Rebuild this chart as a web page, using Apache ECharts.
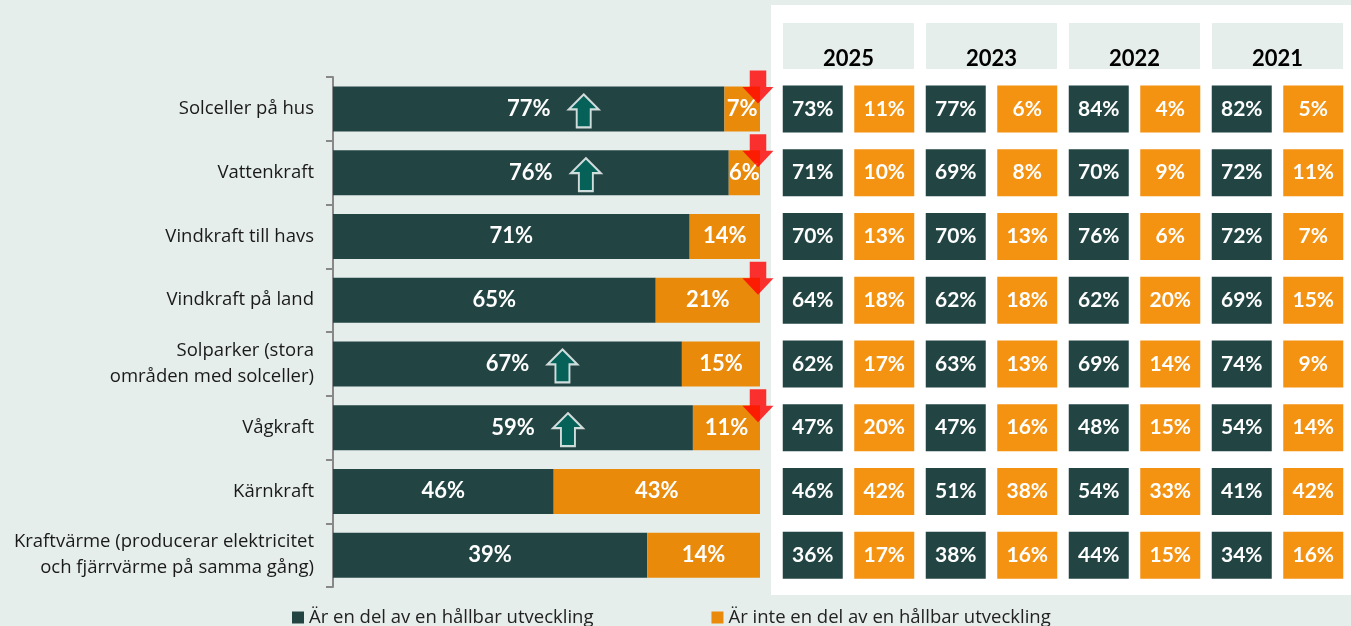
<!DOCTYPE html>
<html>
<head>
<meta charset="utf-8">
<script src="https://cdn.jsdelivr.net/npm/echarts@6/dist/echarts.min.js"></script>
<style>
  html, body { margin: 0; padding: 0; background: #e6eeec; }
  #chart { width: 1351px; height: 626px; }
</style>
</head>
<body>
<div id="chart"></div>
<script>
// kategorier
var categories = [
  'Solceller på hus',
  'Vattenkraft',
  'Vindkraft till havs',
  'Vindkraft på land',
  'Solparker (stora\nområden med solceller)',
  'Vågkraft',
  'Kärnkraft',
  'Kraftvärme (producerar elektricitet\noch fjärrvärme på samma gång)'
]

// staplar (2025)
var barYes = [77, 76, 71, 65, 67, 59, 46, 39]
var barNo = [7, 6, 14, 21, 15, 11, 43, 14]

// trendpilar: 1 = visa pil
var arrowUp = [1, 1, 0, 0, 1, 1, 0, 0]
var arrowDown = [1, 1, 0, 1, 0, 1, 0, 0]

// tabell till höger
var years = ['2025', '2023', '2022', '2021']
var tableYes = [
  [73, 71, 70, 64, 62, 47, 46, 36],
  [77, 69, 70, 62, 63, 47, 51, 38],
  [84, 70, 76, 62, 69, 48, 54, 44],
  [82, 72, 72, 69, 74, 54, 41, 34]
]
var tableNo = [
  [11, 10, 13, 18, 17, 20, 42, 17],
  [6, 8, 13, 18, 13, 16, 38, 16],
  [4, 9, 6, 20, 14, 15, 33, 15],
  [5, 11, 7, 15, 9, 14, 42, 16]
]

var DARK = '#224544'
var ORANGE_BAR = '#e98a0b'
var ORANGE_CELL = '#f49212'
var FONT = '"Open Sans", Lato, sans-serif'
var NUM_FONT = 'Lato, "Open Sans", sans-serif'

var chart = echarts.init(document.getElementById('chart'))

// 100 % staplad: andel av summan
var shareYes = barYes.map(function (v, i) { return v / (v + barNo[i]) })
var shareNo = barNo.map(function (v, i) { return v / (v + barNo[i]) })

var upData = []
var downData = []
categories.forEach(function (c, i) {
  if (arrowUp[i]) upData.push([shareYes[i] / 2, c])
  if (arrowDown[i]) downData.push([1, c])
})

var cellsYes = []
var cellsNo = []
years.forEach(function (y, k) {
  categories.forEach(function (c, i) {
    cellsYes.push([k * 2, i, tableYes[k][i]])
    cellsNo.push([k * 2 + 1, i, tableNo[k][i]])
  })
})

var barLabel = {
  show: true,
  position: 'inside',
  color: '#fff',
  fontSize: 22,
  fontWeight: 'bold',
  fontFamily: NUM_FONT
}

var cellLabel = {
  show: true,
  position: 'inside',
  color: '#fff',
  fontSize: 21,
  fontWeight: 'bold',
  fontFamily: NUM_FONT,
  formatter: function (p) { return p.value[2] + '%' }
}

var option = {
  backgroundColor: '#e6eeec',
  animation: false,
  textStyle: { fontFamily: FONT },
  graphic: [
    {
      type: 'rect',
      z: 0,
      shape: { x: 771, y: 5, width: 590, height: 590 },
      style: { fill: '#ffffff' }
    }
  ],
  legend: {
    data: ['Är en del av en hållbar utveckling', 'Är inte en del av en hållbar utveckling'],
    left: 287,
    top: 603,
    itemWidth: 12,
    itemHeight: 12,
    itemGap: 118,
    icon: 'rect',
    textStyle: { fontSize: 18.5, color: '#222', fontFamily: FONT }
  },
  grid: [
    { left: 333, top: 77, width: 427, height: 510 },
    { left: 777, top: 77, width: 572, height: 510 }
  ],
  xAxis: [
    { gridIndex: 0, type: 'value', min: 0, max: 1, show: false },
    {
      gridIndex: 1, type: 'category', show: false,
      data: [0, 1, 2, 3, 4, 5, 6, 7]
    },
    {
      gridIndex: 1, type: 'category', position: 'top',
      data: years,
      axisLine: { show: false },
      axisTick: { show: false },
      axisLabel: {
        margin: 21,
        formatter: '{a|{value}}',
        rich: {
          a: {
            width: 131,
            height: 20,
            lineHeight: 20,
            padding: [26, 0, 0, 0],
            align: 'center',
            backgroundColor: '#e6eeec',
            color: '#000',
            fontSize: 22,
            fontWeight: 'bold',
            fontFamily: NUM_FONT
          }
        }
      }
    }
  ],
  yAxis: [
    {
      gridIndex: 0,
      type: 'category',
      inverse: true,
      data: categories,
      axisLine: { lineStyle: { color: '#888888', width: 2 } },
      axisTick: { show: true, length: 7, lineStyle: { color: '#888888', width: 2 } },
      axisLabel: {
        margin: 19,
        color: '#1a1a1a',
        fontSize: 18.5,
        lineHeight: 26,
        fontFamily: FONT
      }
    },
    {
      gridIndex: 1,
      type: 'category',
      inverse: true,
      data: [0, 1, 2, 3, 4, 5, 6, 7],
      show: false
    }
  ],
  series: [
    {
      name: 'Är en del av en hållbar utveckling',
      type: 'bar',
      stack: 'a',
      barWidth: 45,
      data: shareYes,
      itemStyle: { color: DARK },
      label: Object.assign({}, barLabel, {
        formatter: function (p) { return barYes[p.dataIndex] + '%' }
      }),
      z: 3
    },
    {
      name: 'Är inte en del av en hållbar utveckling',
      type: 'bar',
      stack: 'a',
      barWidth: 45,
      data: shareNo,
      itemStyle: { color: ORANGE_BAR },
      label: Object.assign({}, barLabel, {
        formatter: function (p) { return barNo[p.dataIndex] + '%' }
      }),
      z: 3
    },
    {
      name: 'upp',
      type: 'scatter',
      data: upData,
      symbol: 'path://M15,0 L30,15 L22,15 L22,33 L8,33 L8,15 L0,15 Z',
      symbolSize: [30, 33],
      symbolOffset: [55, 2],
      itemStyle: { color: '#00685f', borderColor: '#ffffff', borderWidth: 2 },
      z: 5
    },
    {
      name: 'ner',
      type: 'scatter',
      data: downData,
      symbol: 'path://M7,0 L23,0 L23,16 L30,16 L15,32 L0,16 L7,16 Z',
      symbolSize: [31, 33],
      symbolOffset: [-2, -22],
      itemStyle: { color: '#ff0000' },
      z: 6
    },
    {
      name: 'tabell ja',
      type: 'scatter',
      xAxisIndex: 1,
      yAxisIndex: 1,
      data: cellsYes,
      symbol: 'rect',
      symbolSize: [60, 47],
      itemStyle: { color: DARK, opacity: 1 },
      label: cellLabel,
      z: 3
    },
    {
      name: 'tabell nej',
      type: 'scatter',
      xAxisIndex: 1,
      yAxisIndex: 1,
      data: cellsNo,
      symbol: 'rect',
      symbolSize: [60, 47],
      itemStyle: { color: ORANGE_CELL, opacity: 1 },
      label: cellLabel,
      z: 3
    }
  ]
}

chart.setOption(option)
</script>
</body>
</html>
